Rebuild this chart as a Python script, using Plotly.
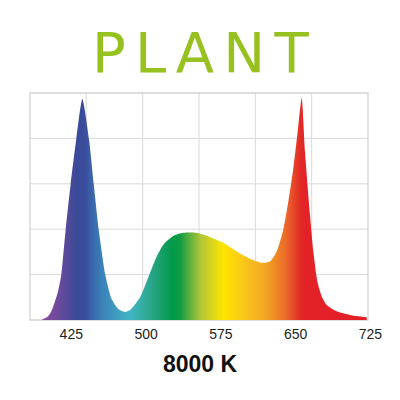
import plotly.graph_objects as go

# Spectrum (wavelength nm, relative intensity in grid units)
wavelength = [383.6, 394.9, 401.7, 405.0, 411.7, 415.0, 419.4, 424.4, 430.0, 436.1,
              442.8, 447.5, 452.5, 459.1, 465.1, 471.9, 478.6, 484.0, 494.0, 504.0,
              510.7, 517.3, 527.3, 537.4, 550.8, 564.1, 577.5, 590.9, 604.3, 616.0,
              624.3, 631.0, 637.7, 642.7, 647.7, 652.1, 656.1, 659.4, 664.4, 667.8,
              671.8, 676.2, 681.2, 691.2, 704.5, 721.3]
intensity = [0.0, 0.0, 0.08, 0.19, 0.63, 1.0, 2.0, 3.0, 3.98, 4.87,
             3.98, 3.0, 2.0, 1.0, 0.48, 0.25, 0.18, 0.22, 0.5, 1.04,
             1.40, 1.66, 1.85, 1.92, 1.92, 1.83, 1.70, 1.51, 1.35, 1.26,
             1.29, 1.51, 2.0, 2.61, 3.34, 4.15, 4.89, 3.71, 2.32, 1.51,
             0.85, 0.52, 0.33, 0.19, 0.11, 0.06]

tick_values = [425, 500, 575, 650, 725]
tick_labels = ["425", "500", "575", "650", "725"]

title_text = "P\u2006L\u2006A\u2006N\u2006T"
subtitle_text = "8000 K"

# spectral colour stops (nm, colour)
color_nm = [380, 395, 410, 430, 438, 455, 484, 505, 527, 534, 555, 578, 600, 620, 640, 655, 660, 725]
color_hex = ["#8E4D9F", "#8B4D9E", "#724A9C", "#3A4A98", "#3B4C9B", "#3A80B8", "#42B6C5",
             "#2BA58A", "#009A47", "#119C45", "#B2C736", "#FFE500", "#F8C41B", "#F2A623",
             "#EA6A29", "#E32A27", "#E32228", "#E31E26"]

x_lo, x_hi = 383.6, 725.6
g_lo, g_hi = color_nm[0], color_nm[-1]
colorscale = [[(n - g_lo) / (g_hi - g_lo), c] for n, c in zip(color_nm, color_hex)]

fig = go.Figure()
fig.add_trace(go.Scatter(
    x=wavelength, y=intensity, mode="lines",
    line=dict(width=0, shape="spline", smoothing=0.6, color="rgba(0,0,0,0)"),
    fill="tozeroy",
    fillgradient=dict(type="horizontal", colorscale=colorscale, start=g_lo, stop=g_hi),
    hoverinfo="skip", showlegend=False,
))

frame_frac = 338.0 / 341.0
grid_col = "#DADADA"
shapes = []
for i in range(1, 6):
    f = frame_frac * i / 6
    shapes.append(dict(type="line", xref="x domain", yref="y domain", x0=f, x1=f, y0=0, y1=1,
                       line=dict(color=grid_col, width=1), layer="below"))
for j in range(1, 5):
    shapes.append(dict(type="line", xref="x domain", yref="y", x0=0, x1=frame_frac, y0=j, y1=j,
                       line=dict(color=grid_col, width=1), layer="below"))
shapes.append(dict(type="rect", xref="x domain", yref="y domain", x0=0, x1=frame_frac, y0=0, y1=1,
                   line=dict(color="#D4D4D4", width=1.3), layer="below"))

# page body adds an 8px offset, so margins are compensated
fig.update_layout(
    width=400, height=400,
    margin=dict(l=22, r=37, t=85, b=88),
    paper_bgcolor="white", plot_bgcolor="white",
    xaxis=dict(range=[x_lo, x_hi], showgrid=False, zeroline=False, showline=False,
               tickvals=tick_values, ticktext=tick_labels, ticks="",
               ticklabelstandoff=4,
               tickfont=dict(family="Liberation Sans, Arial", size=14, color="#231F20"),
               fixedrange=True),
    yaxis=dict(range=[0, 5], showgrid=False, zeroline=False, showline=False,
               showticklabels=False, ticks="", fixedrange=True),
    shapes=shapes,
    annotations=[
        dict(text=title_text, xref="paper", yref="paper", x=0.5, y=(320 - 52.5) / 227,
             xanchor="center", yanchor="middle", showarrow=False,
             font=dict(family="DejaVu Sans", size=56, color="#96C11F")),
        dict(text="<b>" + subtitle_text + "</b>", xref="paper", yref="paper", x=0.5,
             y=(320 - 364) / 227, xanchor="center", yanchor="middle", showarrow=False,
             font=dict(family="Liberation Sans, Arial", size=23, color="#111111")),
    ],
)

fig.write_html("out.html")
